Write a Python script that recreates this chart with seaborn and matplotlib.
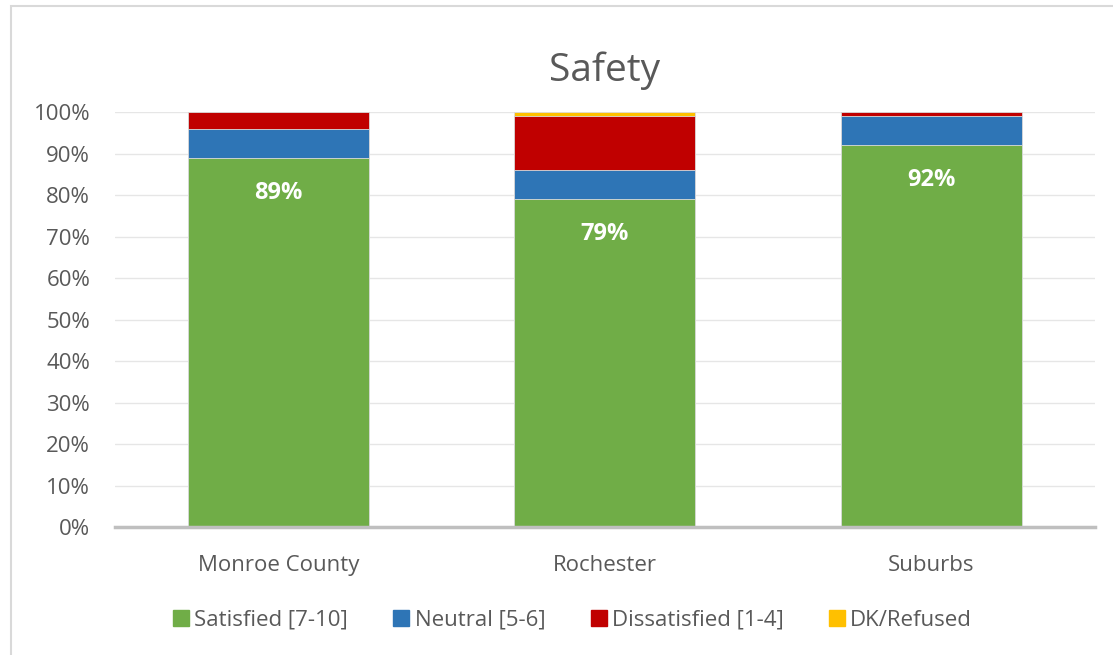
import numpy as np
import pandas as pd
import matplotlib
import matplotlib.pyplot as plt
import seaborn as sns
from matplotlib.patches import Rectangle
from matplotlib.lines import Line2D

matplotlib.use('Agg')

sns.set_style('white')
plt.rcParams['font.family'] = ['Open Sans', 'DejaVu Sans']

regions = ['Monroe County', 'Rochester', 'Suburbs']
satisfied = [89, 79, 92]
neutral = [7, 7, 7]
dissatisfied = [4, 13, 1]
dk_refused = [0, 1, 0]

series = ['Satisfied [7-10]', 'Neutral [5-6]', 'Dissatisfied [1-4]', 'DK/Refused']
colors = ['#70AD47', '#2E75B6', '#C00000', '#FFC000']
text_col = '#595959'

df = pd.DataFrame({'region': regions,
                   series[0]: satisfied, series[1]: neutral,
                   series[2]: dissatisfied, series[3]: dk_refused})
cum = df[series].cumsum(axis=1) / 100
cum['region'] = df['region']

fig = plt.figure(figsize=(11.13, 6.55), dpi=100)
ax = fig.add_axes([0.1035, 0.1954, 0.880, 0.6336])

# stacked by overplotting cumulative totals, largest first
for s, c in zip(series[::-1], colors[::-1]):
    sns.barplot(x='region', y=s, data=cum, color=c, width=0.554,
                saturation=1, linewidth=0.6, edgecolor='#dddddd',
                ax=ax, zorder=3)

for i, v in enumerate(satisfied):
    ax.text(i, v / 100 - 0.084, f'{v}%', ha='center', va='center',
            color='white', fontsize=17, fontweight='bold', zorder=5)

ax.set_ylim(0, 1)
ax.set_yticks(np.arange(0, 1.01, 0.1))
ax.set_yticklabels([f'{int(t)}%' for t in np.arange(0, 101, 10)])
ax.set_xlim(-0.5, 2.5)
ax.set(xlabel='', ylabel='')
ax.yaxis.grid(True, color='#e6e6e6', linewidth=1, zorder=0)
ax.tick_params(axis='both', length=0, labelsize=16, colors=text_col)
ax.tick_params(axis='x', pad=20)
ax.tick_params(axis='y', pad=18)
for sp in ['top', 'right', 'left']:
    ax.spines[sp].set_visible(False)
ax.spines['bottom'].set_color('#bfbfbf')
ax.spines['bottom'].set_linewidth(2.5)
ax.spines['bottom'].set_zorder(4)

ax.set_title('Safety', fontsize=28, color=text_col, pad=22)

handles = [Line2D([], [], marker='s', linestyle='', markersize=11,
                  markerfacecolor=c, markeredgecolor=c) for c in colors]
fig.legend(handles, series, loc='center', bbox_to_anchor=(0.513, 0.053), ncol=4,
           frameon=False, fontsize=16, labelcolor=text_col,
           handletextpad=0.1, columnspacing=1.9, handlelength=1)

fig.patches.append(Rectangle((0.0095, -0.1), 1.2, 1.091, transform=fig.transFigure,
                             fill=False, edgecolor='#d9d9d9', linewidth=1.5))

fig.savefig('out.png', dpi=100)
